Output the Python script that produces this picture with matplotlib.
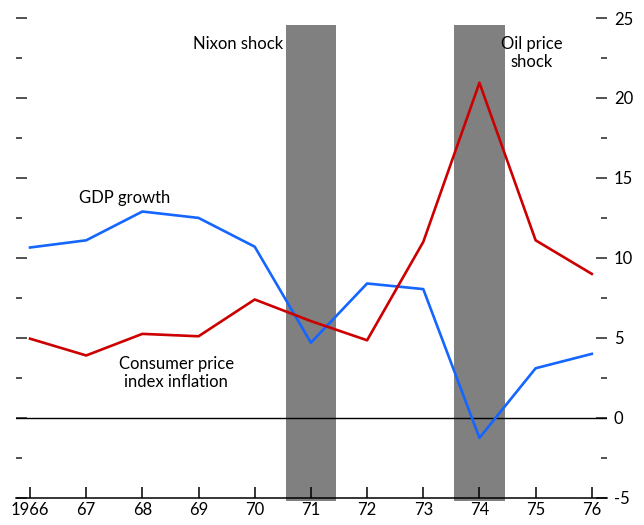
import matplotlib
matplotlib.use('Agg')
import matplotlib.pyplot as plt
from matplotlib.ticker import MultipleLocator

plt.rcParams['font.family'] = ['Lato', 'DejaVu Sans']
plt.rcParams['axes.unicode_minus'] = False

years = [1966, 1967, 1968, 1969, 1970, 1971, 1972, 1973, 1974, 1975, 1976]
year_labels = ['1966', '67', '68', '69', '70', '71', '72', '73', '74', '75', '76']
gdp_growth = [10.65, 11.1, 12.9, 12.5, 10.7, 4.7, 8.4, 8.05, -1.25, 3.1, 4.0]
cpi_inflation = [4.95, 3.9, 5.25, 5.1, 7.4, 6.05, 4.85, 11.0, 20.95, 11.1, 9.0]
shock_years = [1971, 1974]

fig = plt.figure(figsize=(6.44, 5.25), dpi=100)
ax = fig.add_axes([0.0248, 0.0457, 0.9177, 0.92])

ymin, ymax = -5.2, 25
ax.set_xlim(1965.75, 1976.27)
ax.set_ylim(ymin, ymax)

# shaded shock years
for yr in shock_years:
    ax.fill_between([yr - 0.45, yr + 0.45], ymin, 24.56, color='#808080', lw=0, zorder=1)

ax.axhline(0, color='black', lw=1.0, zorder=2)
ax.plot(years, gdp_growth, color='#1466ff', lw=1.9, zorder=3)
ax.plot(years, cpi_inflation, color='#cc0000', lw=1.9, zorder=3)

fs = 12
ax.text(1971 - 0.5, 23.4, 'Nixon shock', ha='right', va='center', fontsize=fs)
ax.text(1974.93, 22.8, 'Oil price\nshock', ha='center', va='center', fontsize=fs,
        linespacing=1.2)
ax.text(1967.68, 13.75, 'GDP growth', ha='center', va='center', fontsize=fs)
ax.text(1968.6, 2.8, 'Consumer price\nindex inflation', ha='center', va='center',
        fontsize=fs, linespacing=1.2)

# axes frame: only bottom line, ticks pointing inward
for side in ['top', 'left', 'right']:
    ax.spines[side].set_visible(False)
ax.spines['bottom'].set_position(('data', -5))
ax.spines['bottom'].set_linewidth(1.1)

ax.set_xticks(years)
ax.set_xticklabels(year_labels, fontsize=fs)
ax.tick_params(axis='x', direction='in', length=8, width=1.1, pad=3)

ax.yaxis.set_major_locator(MultipleLocator(5))
ax.yaxis.set_minor_locator(MultipleLocator(2.5))
ax.tick_params(axis='y', which='both', direction='in', left=True, right=True,
               labelleft=False, labelright=True, labelsize=fs, pad=5, color='#333333')
ax.tick_params(axis='y', which='major', length=8, width=1.2)
ax.tick_params(axis='y', which='minor', length=4.3, width=1.2)

fig.savefig('out.png', dpi=100)
